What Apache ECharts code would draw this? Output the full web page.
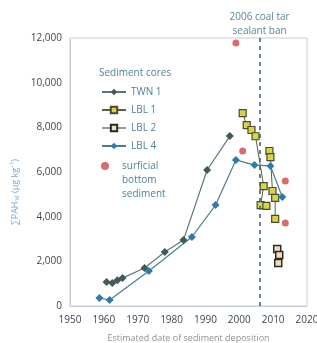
<!DOCTYPE html>
<html>
<head>
<meta charset="utf-8">
<script src="https://cdn.jsdelivr.net/npm/echarts@6/dist/echarts.min.js"></script>
<style>
  html, body { margin: 0; padding: 0; background: #fff; }
  #chart { width: 317px; height: 343px; }
</style>
</head>
<body>
<div id="chart"></div>
<script>
// values: [year, ΣPAH16 µg/kg]
var twn1 = [[1960.8, 1075], [1962.5, 1030], [1964, 1150], [1965.5, 1250], [1972, 1700],
  [1978, 2420], [1983.5, 2950], [1990.5, 6090], [1997.2, 7610]];
var lbl1a = [[2001, 8640], [2002.2, 8100], [2003.6, 7880], [2004.8, 7600], [2007.2, 5370],
  [2006.3, 4520], [2008, 4480]];
var lbl1b = [[2008.9, 6940], [2009.2, 6670], [2009.8, 5150], [2010.6, 4840], [2010.6, 3900]];
var lbl2 = [[2011.2, 2550], [2011.8, 2280], [2011.5, 1930]];
var lbl4 = [[1958.7, 360], [1961.7, 270], [1973.3, 1570], [1986, 3090], [1993, 4520],
  [1999, 6540], [2004.5, 6310], [2009.2, 6270], [2012.7, 4880]];
var surficial = [[1999, 11780], [2001, 6940], [2013.6, 5600], [2013.6, 3720]];
var banYear = 2006;
var yTicks = ['0', '2,000', '4,000', '6,000', '8,000', '10,000', '12,000'];

var font = 'Open Sans';
var txt = '#4f8399';
// two empty lines first so the dot sits beside "surficial"
var surfName = '\n\nsurficial\nbottom\nsediment';

var myChart = echarts.init(document.getElementById('chart'));
var option = {
  animation: false,
  backgroundColor: '#fff',
  textStyle: { fontFamily: font },
  title: {
    text: 'Sediment cores',
    left: 94,
    top: 63,
    textStyle: { fontSize: 10, fontWeight: 'normal', color: txt, fontFamily: font }
  },
  legend: [
    {
      orient: 'vertical',
      left: 96,
      top: 80,
      itemWidth: 24,
      itemHeight: 8,
      itemGap: 4,
      textStyle: { fontSize: 10, color: txt, fontFamily: font, lineHeight: 14 },
      data: ['TWN 1', 'LBL 1', 'LBL 2', 'LBL 4']
    },
    {
      orient: 'vertical',
      left: 96,
      top: 126,
      itemWidth: 24,
      itemHeight: 8,
      textStyle: { fontSize: 10, color: txt, fontFamily: font, lineHeight: 14 },
      data: [surfName]
    }
  ],
  grid: {
    left: 70, right: 10, top: 38, bottom: 37,
    outerBoundsMode: 'none',
    show: true, borderColor: '#c5ced6', borderWidth: 1
  },
  xAxis: {
    type: 'value',
    min: 1950,
    max: 2020,
    interval: 10,
    name: 'Estimated date of sediment deposition',
    nameLocation: 'middle',
    nameGap: 28,
    nameTextStyle: { fontSize: 9, color: '#8a9296', fontFamily: font },
    axisLine: { show: true, lineStyle: { color: '#c5ced6' } },
    axisTick: { show: false },
    splitLine: { show: false },
    axisLabel: {
      fontSize: 10, color: '#3c4650', margin: 9, fontFamily: font,
      formatter: function (v) { return String(v); }
    }
  },
  yAxis: {
    type: 'value',
    min: 0,
    max: 12000,
    interval: 2000,
    name: '\u2211PAH\u2081\u2086 (\u00b5g kg\u207b\u00b9)',
    nameLocation: 'middle',
    nameGap: 39,
    nameTextStyle: { fontSize: 9, color: '#7fa6c4', fontFamily: font, padding: [0, 0, 0, -40] },
    axisLine: { show: true, lineStyle: { color: '#c5ced6' } },
    axisTick: { show: false },
    splitLine: { show: false },
    axisLabel: {
      fontSize: 10, color: '#3c4650', margin: 8, fontFamily: font,
      formatter: function (v) { return yTicks[v / 2000]; }
    }
  },
  series: [
    {
      name: 'TWN 1', type: 'line', data: twn1,
      symbol: 'diamond', symbolSize: 8,
      itemStyle: { color: '#3f5a58' },
      lineStyle: { color: '#5a7878', width: 1.2 },
      markLine: {
        silent: true, symbol: 'none',
        lineStyle: { type: [4, 4], color: '#3d6474', width: 1.6 },
        label: {
          position: 'end', formatter: '2006 coal tar\nsealant ban',
          fontSize: 10, color: '#5a8596', lineHeight: 14, fontFamily: font, distance: 0
        },
        data: [{ xAxis: banYear }]
      }
    },
    {
      name: 'LBL 1', type: 'line', data: lbl1a,
      symbol: 'rect', symbolSize: 7,
      itemStyle: { color: '#d6d44c', borderColor: '#4a4a30', borderWidth: 1.2 },
      lineStyle: { color: '#5a6040', width: 1 }
    },
    {
      name: 'LBL 1', type: 'line', data: lbl1b,
      symbol: 'rect', symbolSize: 7,
      itemStyle: { color: '#d6d44c', borderColor: '#4a4a30', borderWidth: 1.2 },
      lineStyle: { color: '#5a6040', width: 1 }
    },
    {
      name: 'LBL 2', type: 'line', data: lbl2,
      symbol: 'rect', symbolSize: 7,
      itemStyle: { color: '#f2dcc0', borderColor: '#2a2a2a', borderWidth: 1.5 },
      lineStyle: { color: '#9a9a9a', width: 1 }
    },
    {
      name: 'LBL 4', type: 'line', data: lbl4,
      symbol: 'diamond', symbolSize: 8,
      itemStyle: { color: '#2f7aa6' },
      lineStyle: { color: '#4a7f8c', width: 1.2 }
    },
    {
      name: surfName, type: 'scatter', data: surficial,
      symbol: 'circle', symbolSize: 7,
      itemStyle: { color: '#d04848' }
    }
  ]
};
myChart.setOption(option);
</script>
</body>
</html>
